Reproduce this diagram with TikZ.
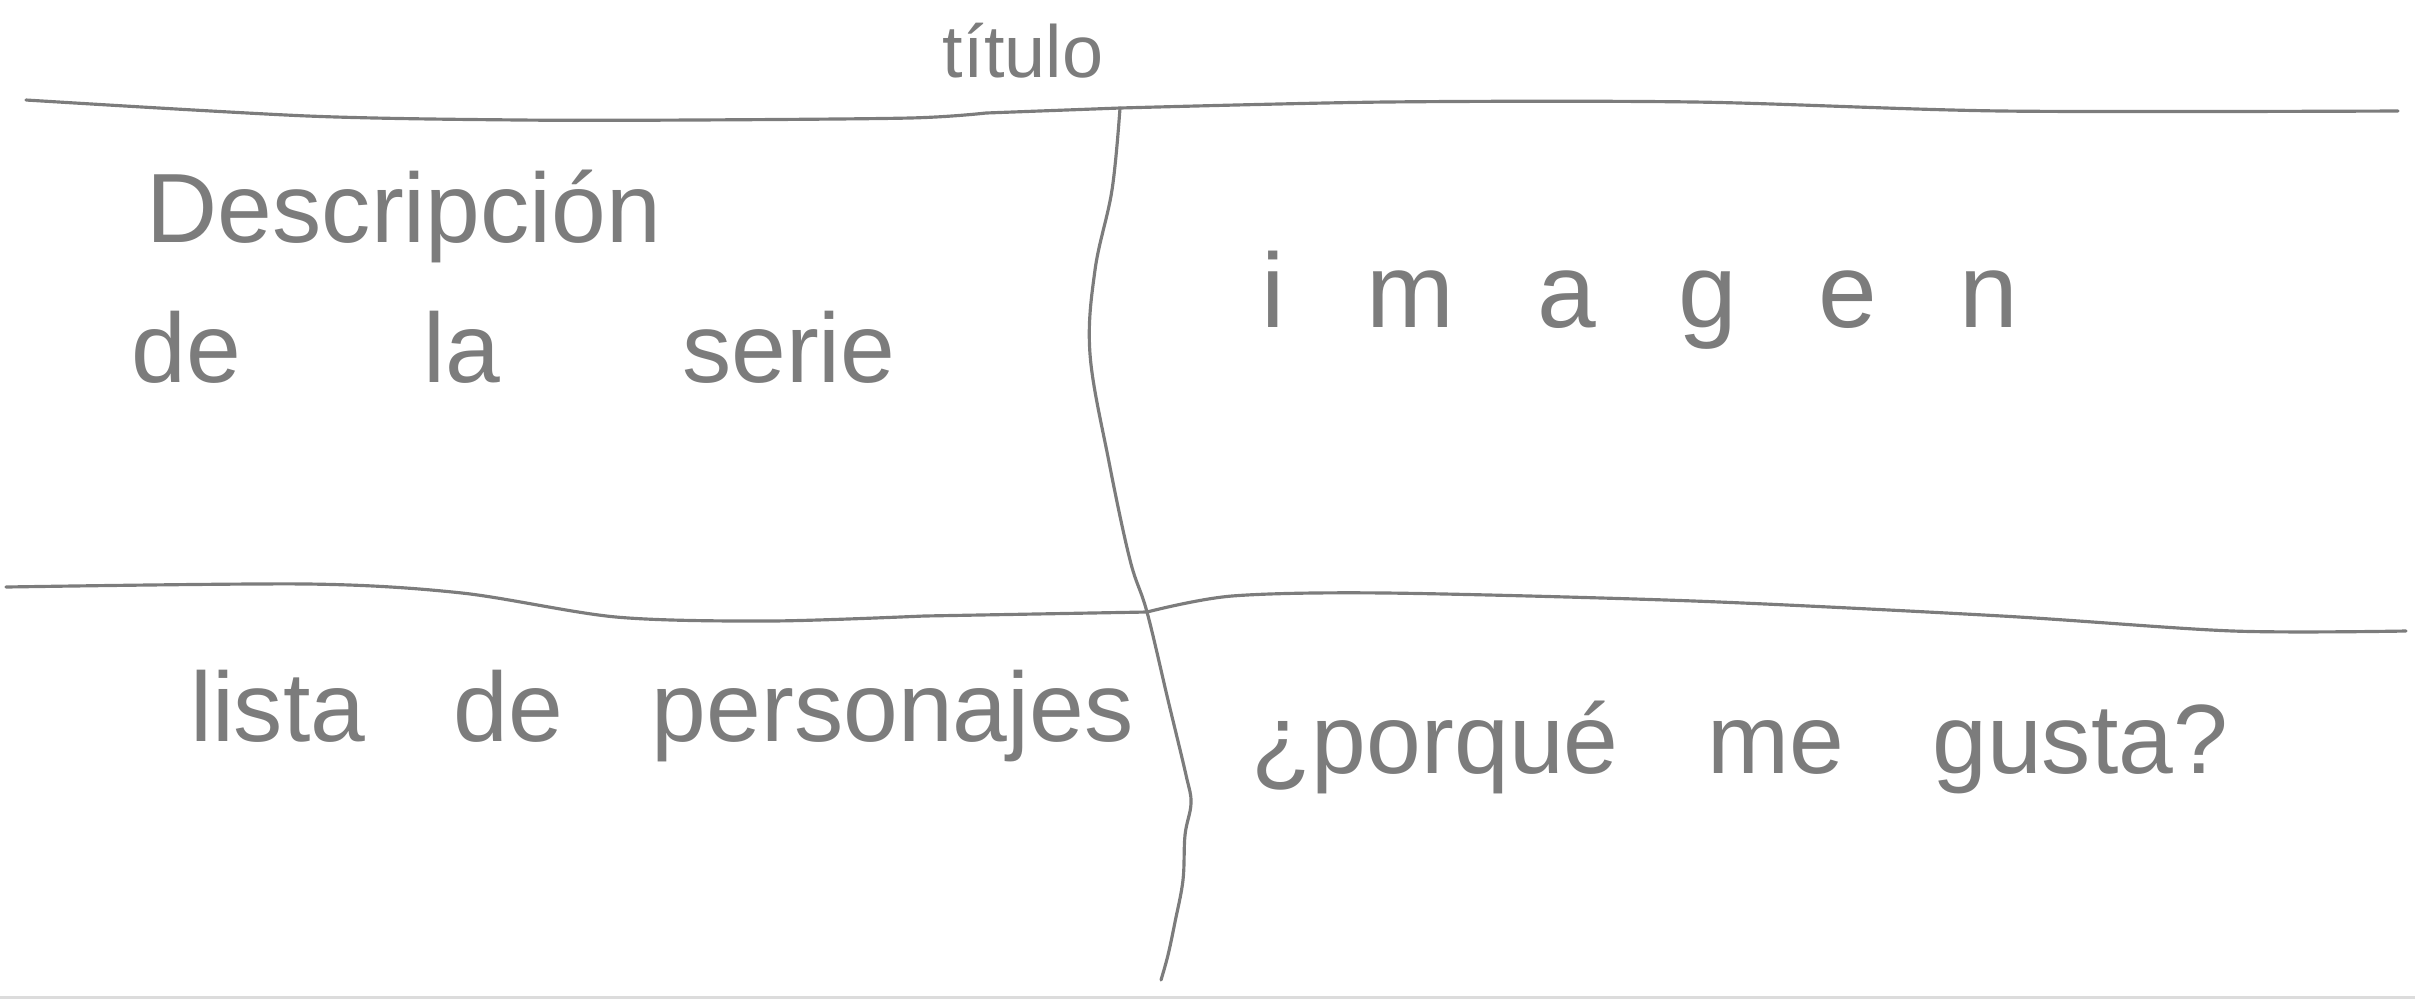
\documentclass[tikz,border=0pt]{standalone}
\usepackage{fontspec}
\setmainfont{Liberation Sans}
\newfontfamily\widefont[LetterSpace=78]{Liberation Sans}
\usepackage{xcolor}
\definecolor{pencil}{HTML}{7C7C7C}
\definecolor{frame}{HTML}{DCDCDC}
\newcommand\wordgap{\spaceskip 0.9em\relax}
\newcommand\widegap{\spaceskip 1.85em\relax}
\tikzset{
  every node/.style={text=pencil,inner sep=0pt},
  stroke/.style={draw=pencil,line width=0.9pt,line cap=round,line join=round},
  sketchtext/.style={font=\fontsize{28}{30}\selectfont\wordgap},
  titletext/.style={font=\fontsize{21}{24}\selectfont},
}

\begin{document}
\begin{tikzpicture}[x=0.01cm,y=-0.01cm]
  \useasboundingbox (0,0) rectangle (2415,999);
  \fill[frame] (0,996) rectangle (2415,999);

  % crossing points of the sketch lines
  \coordinate (top) at (1120,108);
  \coordinate (mid) at (1147,612);

  % titulo and horizontal rules
  \node[titletext] (title) at (1023,51) {título};
  \draw[stroke] plot[smooth,tension=0.5] coordinates {(26,100) (308,116) (520,120) (693,120) (910,118) (986,113)}
    -- (top) plot[smooth,tension=0.5] coordinates {(top) (1386,102) (1694,102) (2002,111) (2398,111)};
  \draw[stroke] plot[smooth,tension=0.5] coordinates {(6,587) (308,584) (462,593) (616,617) (770,621) (924,616)}
    -- (mid) plot[smooth,tension=0.5] coordinates {(mid) (1232,596) (1386,593) (1694,601) (2002,616) (2233,631) (2406,631)};

  % vertical rule
  \draw[stroke] plot[smooth,tension=0.6] coordinates {(top) (1112,190) (1095,270) (1090,354) (1109,462) (1130,560) (mid)
    (1168,700) (1186,775) (1191,803) (1185,835) (1183,880) (1175,922) (1168,955) (1161,980)};

  % panels
  \node[sketchtext,anchor=west] (desc) at (146,216) {Descripción};
  \node[sketchtext,font=\fontsize{28}{30}\selectfont\widegap,anchor=west] (serie) at (131,347) {de la serie};
  \node[font=\widefont\fontsize{30}{32}\selectfont] (imagen) at (1640,300) {imagen};
  \node[sketchtext] (lista) at (662,716) {lista de personajes};
  \node[sketchtext] (porque) at (1740,747) {¿porqué me gusta?};
\end{tikzpicture}
\end{document}
